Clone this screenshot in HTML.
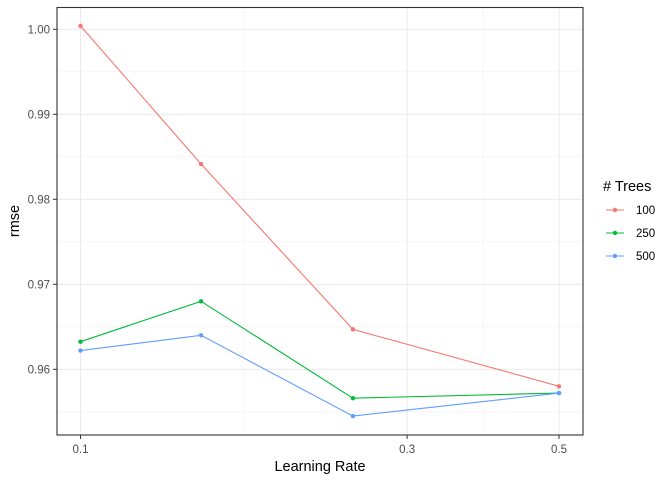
<!DOCTYPE html>
<html><head><meta charset="utf-8"><style>
body{margin:0;background:#fff;font-family:"Liberation Sans",sans-serif}
svg text{font-family:"Liberation Sans",sans-serif}
</style></head><body>
<svg width="672" height="480">
<g id="grid"></g>
<g id="lines"></g>
<rect x="57" y="7.5" width="526" height="427.5" fill="none" stroke="#333" stroke-width="1.1"/>
<g id="axes"></g>
<text x="320" y="471" text-anchor="middle" font-size="14.5" fill="#000">Learning Rate</text>
<text transform="translate(19,221) rotate(-90)" text-anchor="middle" font-size="14.5" fill="#000">rmse</text>
<g id="legend">
<text x="603" y="191" font-size="14.5" fill="#000"># Trees</text>
</g>
</svg>
<script>
const xValues=[0.1,0.15,0.25,0.5];
const seriesNames=["100","250","500"];
const series100=[1.0004,0.98415,0.9647,0.9580];
const series250=[0.96325,0.9680,0.9566,0.9572];
const series500=[0.9622,0.9640,0.9545,0.9572];
const xTicks=[0.1,0.3,0.5];
const yTicks=[0.96,0.97,0.98,0.99,1.00];
const colors=["#F8766D","#00BA38","#619CFF"];
const NS="http://www.w3.org/2000/svg";
const X=v=>80.5+(559-80.5)*Math.log(v/0.1)/Math.log(5);
const Y=v=>369.3-(v-0.96)/0.04*340;
function mk(t,a,p){const e=document.createElementNS(NS,t);for(const k in a)e.setAttribute(k,a[k]);p.appendChild(e);return e;}
const g=document.getElementById('grid'),ax=document.getElementById('axes'),L=document.getElementById('lines'),lg=document.getElementById('legend');
for(let i=0;i<yTicks.length;i++){const v=yTicks[i]-0.005;const l=mk('line',{x1:57,x2:583,y1:Y(v),y2:Y(v),stroke:'#f0f0f0','stroke-width':0.6},g);
}
for(let i=0;i<xTicks.length-1;i++){const v=Math.sqrt(xTicks[i]*xTicks[i+1]);const l=mk('line',{x1:X(v),x2:X(v),y1:8,y2:435,stroke:'#f0f0f0','stroke-width':0.6},g);
}
yTicks.forEach(v=>{const l=mk('line',{x1:57,x2:583,y1:Y(v),y2:Y(v),stroke:'#ebebeb','stroke-width':1.1},g);

const t=mk('line',{x1:53,x2:57,y1:Y(v),y2:Y(v),stroke:'#333'},ax);
const tx=mk('text',{x:50,y:Y(v)+4,'text-anchor':'end','font-size':11.5,fill:'#4d4d4d'},ax);tx.textContent=v.toFixed(2);
});
xTicks.forEach(v=>{const l=mk('line',{x1:X(v),x2:X(v),y1:8,y2:435,stroke:'#ebebeb','stroke-width':1.1},g);

const t=mk('line',{x1:X(v),x2:X(v),y1:435,y2:439,stroke:'#333'},ax);
const tx=mk('text',{x:X(v),y:453,'text-anchor':'middle','font-size':11.5,fill:'#4d4d4d'},ax);tx.textContent=String(v);
});
[series100,series250,series500].forEach((s,i)=>{
const pl=mk('polyline',{points:s.map((v,j)=>X(xValues[j])+','+Y(v)).join(' '),fill:'none',stroke:colors[i],'stroke-width':1.1},L);

s.forEach((v,j)=>{const c=mk('circle',{cx:X(xValues[j]),cy:Y(v),r:2.2,fill:colors[i]},L);
});
const y=210+i*23;
const ll=mk('line',{x1:606,x2:624,y1:y,y2:y,stroke:colors[i],'stroke-width':1.1},lg);
const lc=mk('circle',{cx:615,cy:y,r:2.2,fill:colors[i]},lg);
const lt=mk('text',{x:636,y:y+4,'font-size':11.5,fill:'#000'},lg);lt.textContent=seriesNames[i];

});
</script>
</body></html>
